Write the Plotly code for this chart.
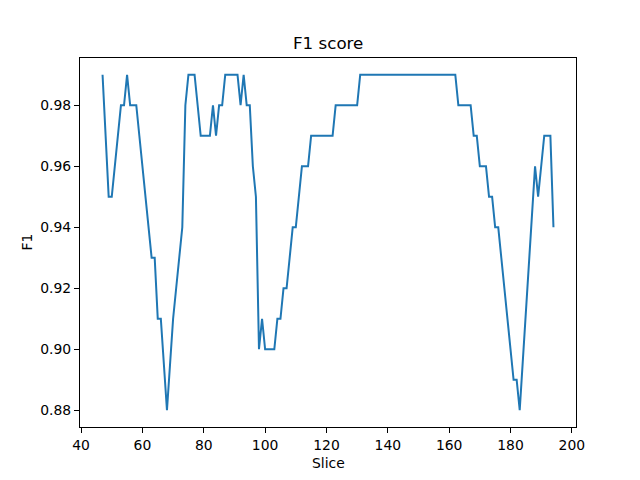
import plotly.graph_objects as go

slices = list(range(47, 195))
f1 = [
    0.99, 0.97, 0.95, 0.95, 0.96, 0.97, 0.98, 0.98, 0.99, 0.98,   # 47-56
    0.98, 0.98, 0.97, 0.96, 0.95, 0.94, 0.93, 0.93, 0.91, 0.91,   # 57-66
    0.895, 0.88, 0.895, 0.91, 0.92, 0.93, 0.94, 0.98, 0.99, 0.99, # 67-76
    0.99, 0.98, 0.97, 0.97, 0.97, 0.97, 0.98, 0.97, 0.98, 0.98,   # 77-86
    0.99, 0.99, 0.99, 0.99, 0.99, 0.98, 0.99, 0.98, 0.98, 0.96,   # 87-96
    0.95, 0.90, 0.91, 0.90, 0.90, 0.90, 0.90, 0.91, 0.91, 0.92,   # 97-106
    0.92, 0.93, 0.94, 0.94, 0.95, 0.96, 0.96, 0.96, 0.97, 0.97,   # 107-116
    0.97, 0.97, 0.97, 0.97, 0.97, 0.97, 0.98, 0.98, 0.98, 0.98,   # 117-126
    0.98, 0.98, 0.98, 0.98, 0.99, 0.99, 0.99, 0.99, 0.99, 0.99,   # 127-136
    0.99, 0.99, 0.99, 0.99, 0.99, 0.99, 0.99, 0.99, 0.99, 0.99,   # 137-146
    0.99, 0.99, 0.99, 0.99, 0.99, 0.99, 0.99, 0.99, 0.99, 0.99,   # 147-156
    0.99, 0.99, 0.99, 0.99, 0.99, 0.99, 0.98, 0.98, 0.98, 0.98,   # 157-166
    0.98, 0.97, 0.97, 0.96, 0.96, 0.96, 0.95, 0.95, 0.94, 0.94,   # 167-176
    0.93, 0.92, 0.91, 0.90, 0.89, 0.89, 0.88, 0.896, 0.912, 0.928, # 177-186
    0.944, 0.96, 0.95, 0.96, 0.97, 0.97, 0.97, 0.94,              # 187-194
]

x_ticks = [40, 60, 80, 100, 120, 140, 160, 180, 200]
y_ticks = [0.88, 0.90, 0.92, 0.94, 0.96, 0.98]

title_text = "F1 score"
x_label = "Slice"
y_label = "F1"

font_family = "DejaVu Sans"

fig = go.Figure()
fig.add_trace(go.Scatter(
    x=slices, y=f1, mode="lines",
    line=dict(color="#1f77b4", width=2),
    showlegend=False,
))

axis_common = dict(
    showgrid=False, zeroline=False,
    showline=True, linecolor="black", linewidth=1, mirror=True,
    ticks="outside", ticklen=5, tickwidth=1, tickcolor="black",
    tickfont=dict(family=font_family, size=13.9, color="black"),
)

fig.update_xaxes(range=[39.65, 201.35], tickvals=x_ticks,
                 ticktext=[str(v) for v in x_ticks], **axis_common)
fig.update_yaxes(range=[0.8745, 0.9955], tickvals=y_ticks,
                 ticktext=[f"{v:.2f}" for v in y_ticks], **axis_common)

# The page body adds an 8 px offset, so the figure is 632x472 with
# margins reduced accordingly.
fig.update_layout(
    width=632, height=472,
    margin=dict(l=72, r=64, t=50, b=53, pad=0),
    paper_bgcolor="white", plot_bgcolor="white",
    font=dict(family=font_family, color="black"),
    annotations=[
        dict(text=title_text, xref="paper", yref="paper", x=0.5, y=1,
             xanchor="center", yanchor="bottom", yshift=3, showarrow=False,
             font=dict(family=font_family, size=16.7, color="black")),
        dict(text=x_label, xref="paper", yref="paper", x=0.5, y=0,
             xanchor="center", yanchor="top", yshift=-26, showarrow=False,
             font=dict(family=font_family, size=13.9, color="black")),
        dict(text=y_label, xref="paper", yref="paper", x=0, y=0.5,
             xanchor="right", yanchor="middle", xshift=-44, textangle=-90,
             showarrow=False,
             font=dict(family=font_family, size=13.9, color="black")),
    ],
)

fig.write_html("out.html")
